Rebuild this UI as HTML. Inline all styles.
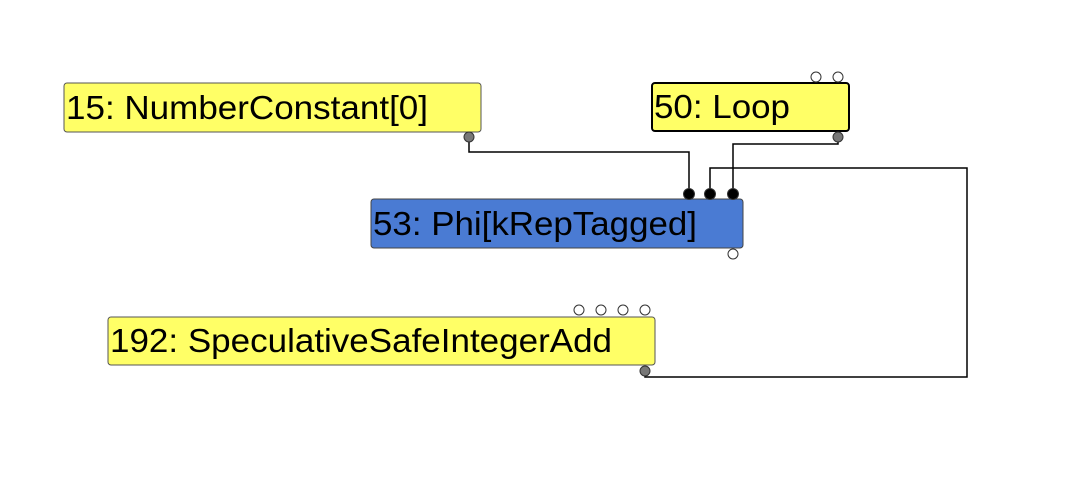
<!DOCTYPE html>
<html><head><style>body{margin:0;background:#fff}svg{display:block}text{font-family:"Liberation Sans",Arial,sans-serif;font-size:33px;fill:#000}</style></head>
<body>
<svg width="1086" height="480" viewBox="0 0 1086 480">
<g fill="none" stroke="#000" stroke-width="1.5">
<polyline points="469,137 469,152 689,152 689,190"/>
<polyline points="838,137 838,144 733,144 733,190"/>
<polyline points="645,371 645,377 967,377 967,168 710,168 710,190"/>
</g>
<rect x="64" y="83" width="417" height="49" rx="3" fill="#ffff66" stroke="#555" stroke-width="1"/>
<text x="66" y="119" textLength="362" lengthAdjust="spacingAndGlyphs">15: NumberConstant[0]</text>
<rect x="652" y="83" width="197" height="48" rx="3" fill="#ffff66" stroke="#000" stroke-width="2"/>
<text x="654" y="118" textLength="136" lengthAdjust="spacingAndGlyphs">50: Loop</text>
<rect x="371" y="199" width="372" height="49" rx="3" fill="#4a7bd3" stroke="#444" stroke-width="1"/>
<text x="373" y="235" textLength="324" lengthAdjust="spacingAndGlyphs">53: Phi[kRepTagged]</text>
<rect x="108" y="317" width="547" height="48" rx="3" fill="#ffff66" stroke="#555" stroke-width="1"/>
<text x="110" y="352" textLength="502" lengthAdjust="spacingAndGlyphs">192: SpeculativeSafeIntegerAdd</text>
<g stroke="#333" stroke-width="1">
<circle cx="469" cy="137" r="5" fill="#777"/>
<circle cx="838" cy="137" r="5" fill="#777"/>
<circle cx="645" cy="371" r="5" fill="#777"/>
<circle cx="816" cy="77" r="5" fill="#fff"/>
<circle cx="838" cy="77" r="5" fill="#fff"/>
<circle cx="733" cy="254" r="5" fill="#fff"/>
<circle cx="579" cy="310" r="5" fill="#fff"/>
<circle cx="601" cy="310" r="5" fill="#fff"/>
<circle cx="623" cy="310" r="5" fill="#fff"/>
<circle cx="645" cy="310" r="5" fill="#fff"/>
<circle cx="689" cy="194" r="5.5" fill="#000"/>
<circle cx="710" cy="194" r="5.5" fill="#000"/>
<circle cx="733" cy="194" r="5.5" fill="#000"/>
</g>
</svg>
</body></html>
